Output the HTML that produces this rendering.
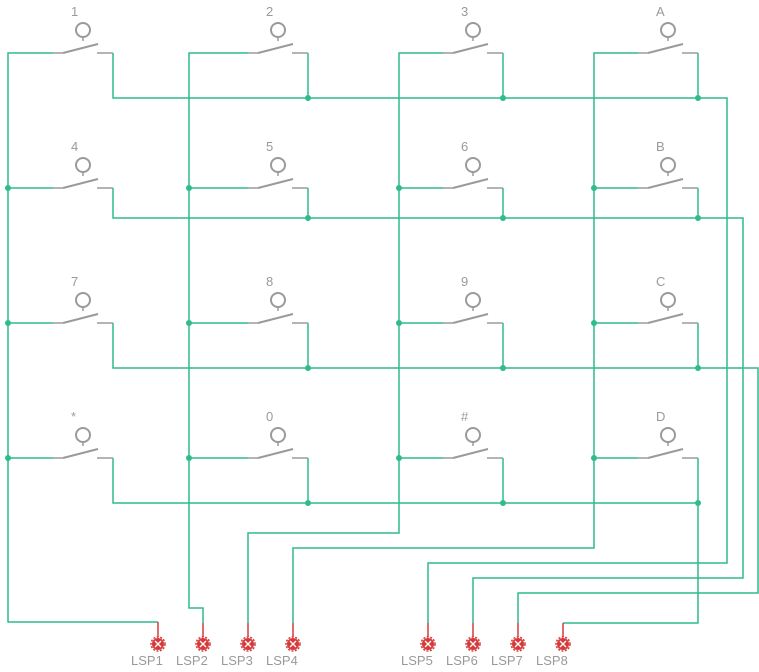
<!DOCTYPE html>
<html><head><meta charset="utf-8"><style>
html,body{margin:0;padding:0;background:#fff;}
svg{display:block;}
text{font-family:"Liberation Sans",sans-serif;fill:#9a9a9a;}
</style></head><body>
<svg width="759" height="672" viewBox="0 0 759 672" xmlns="http://www.w3.org/2000/svg">
<defs>
<g id="sw">
 <line x1="53" y1="0" x2="63" y2="0" stroke="#9a9a9a" stroke-width="1.5"/>
 <line x1="63" y1="0" x2="98" y2="-9" stroke="#9a9a9a" stroke-width="2"/>
 <line x1="97" y1="0" x2="113" y2="0" stroke="#9a9a9a" stroke-width="1.5"/>
 <line x1="83" y1="-16" x2="83" y2="-12" stroke="#9a9a9a" stroke-width="1.5"/>
 <circle cx="83" cy="-23" r="7" fill="none" stroke="#9a9a9a" stroke-width="2"/>
</g>
<g id="con">
 <circle cx="0" cy="0" r="6" fill="#d63a3a"/>
 <circle cx="0" cy="0" r="7" fill="none" stroke="#d63a3a" stroke-width="1.5" stroke-dasharray="2 1.5"/>
 <line x1="-3" y1="-3" x2="3" y2="3" stroke="#fff" stroke-width="1.3"/>
 <line x1="-3" y1="3" x2="3" y2="-3" stroke="#fff" stroke-width="1.3"/>
</g>
</defs>
<g fill="none" stroke="#2fbb8c" stroke-width="1.5">
 <polyline points="53,53 8,53 8,622 158,622"/>
 <line x1="8" y1="188" x2="53" y2="188"/><line x1="8" y1="323" x2="53" y2="323"/><line x1="8" y1="458" x2="53" y2="458"/>
 <polyline points="248,53 189,53 189,608 203,608 203,623"/>
 <line x1="189" y1="188" x2="248" y2="188"/><line x1="189" y1="323" x2="248" y2="323"/><line x1="189" y1="458" x2="248" y2="458"/>
 <polyline points="443,53 399,53 399,533 248,533 248,623"/>
 <line x1="399" y1="188" x2="443" y2="188"/><line x1="399" y1="323" x2="443" y2="323"/><line x1="399" y1="458" x2="443" y2="458"/>
 <polyline points="638,53 594,53 594,548 293,548 293,623"/>
 <line x1="594" y1="188" x2="638" y2="188"/><line x1="594" y1="323" x2="638" y2="323"/><line x1="594" y1="458" x2="638" y2="458"/>
 <polyline points="113,53 113,98 727,98 727,563 428,563 428,623"/>
 <polyline points="308,53 308,98"/><polyline points="503,53 503,98"/><polyline points="698,53 698,98"/>
 <polyline points="113,188 113,218 743,218 743,578 473,578 473,623"/>
 <polyline points="308,188 308,218"/><polyline points="503,188 503,218"/><polyline points="698,188 698,218"/>
 <polyline points="113,323 113,368 758,368 758,593 518,593 518,623"/>
 <polyline points="308,323 308,368"/><polyline points="503,323 503,368"/><polyline points="698,323 698,368"/>
 <polyline points="113,458 113,503 698,503 698,623 563,623"/>
 <polyline points="308,458 308,503"/><polyline points="503,458 503,503"/><polyline points="698,458 698,503"/>
</g>
<g fill="#2fbb8c">
 <circle cx="8" cy="188" r="3"/><circle cx="8" cy="323" r="3"/><circle cx="8" cy="458" r="3"/>
 <circle cx="189" cy="188" r="3"/><circle cx="189" cy="323" r="3"/><circle cx="189" cy="458" r="3"/>
 <circle cx="399" cy="188" r="3"/><circle cx="399" cy="323" r="3"/><circle cx="399" cy="458" r="3"/>
 <circle cx="594" cy="188" r="3"/><circle cx="594" cy="323" r="3"/><circle cx="594" cy="458" r="3"/>
 <circle cx="308" cy="98" r="3"/><circle cx="503" cy="98" r="3"/><circle cx="698" cy="98" r="3"/>
 <circle cx="308" cy="218" r="3"/><circle cx="503" cy="218" r="3"/><circle cx="698" cy="218" r="3"/>
 <circle cx="308" cy="368" r="3"/><circle cx="503" cy="368" r="3"/><circle cx="698" cy="368" r="3"/>
 <circle cx="308" cy="503" r="3"/><circle cx="503" cy="503" r="3"/><circle cx="698" cy="503" r="3"/>
</g>
<use href="#sw" x="0" y="53"/><use href="#sw" x="195" y="53"/><use href="#sw" x="390" y="53"/><use href="#sw" x="585" y="53"/>
<use href="#sw" x="0" y="188"/><use href="#sw" x="195" y="188"/><use href="#sw" x="390" y="188"/><use href="#sw" x="585" y="188"/>
<use href="#sw" x="0" y="323"/><use href="#sw" x="195" y="323"/><use href="#sw" x="390" y="323"/><use href="#sw" x="585" y="323"/>
<use href="#sw" x="0" y="458"/><use href="#sw" x="195" y="458"/><use href="#sw" x="390" y="458"/><use href="#sw" x="585" y="458"/>
<g font-size="13">
 <text x="71" y="16">1</text><text x="266" y="16">2</text><text x="461" y="16">3</text><text x="656" y="16">A</text>
 <text x="71" y="151">4</text><text x="266" y="151">5</text><text x="461" y="151">6</text><text x="656" y="151">B</text>
 <text x="71" y="286">7</text><text x="266" y="286">8</text><text x="461" y="286">9</text><text x="656" y="286">C</text>
 <text x="71" y="421">*</text><text x="266" y="421">0</text><text x="461" y="421">#</text><text x="656" y="421">D</text>
</g>
<g stroke="#d63a3a" stroke-width="1.5">
 <line x1="158" y1="622" x2="158" y2="637"/><line x1="203" y1="623" x2="203" y2="637"/><line x1="248" y1="623" x2="248" y2="637"/><line x1="293" y1="623" x2="293" y2="637"/>
 <line x1="428" y1="623" x2="428" y2="637"/><line x1="473" y1="623" x2="473" y2="637"/><line x1="518" y1="623" x2="518" y2="637"/><line x1="563" y1="623" x2="563" y2="637"/>
</g>
<use href="#con" x="158" y="644"/><use href="#con" x="203" y="644"/><use href="#con" x="248" y="644"/><use href="#con" x="293" y="644"/>
<use href="#con" x="428" y="644"/><use href="#con" x="473" y="644"/><use href="#con" x="518" y="644"/><use href="#con" x="563" y="644"/>
<g font-size="13">
 <text x="131" y="665">LSP1</text><text x="176" y="665">LSP2</text><text x="221" y="665">LSP3</text><text x="266" y="665">LSP4</text>
 <text x="401" y="665">LSP5</text><text x="446" y="665">LSP6</text><text x="491" y="665">LSP7</text><text x="536" y="665">LSP8</text>
</g>
</svg>
</body></html>
